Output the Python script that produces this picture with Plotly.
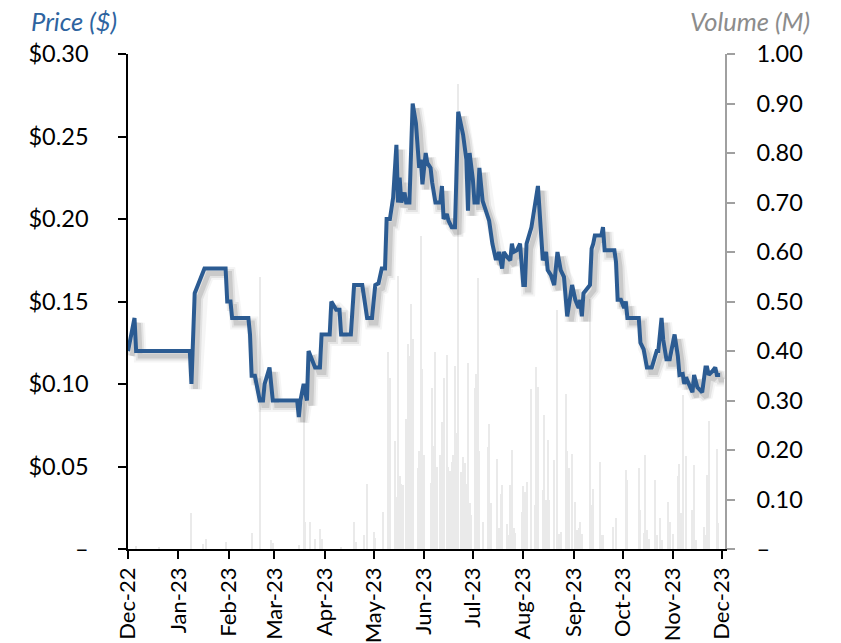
import pandas as pd
import plotly.graph_objects as go

# Daily closing price (turning points of the traded series), USD
price_dates = [
    "2022-12-01", "2022-12-05", "2022-12-06", "2023-01-08", "2023-01-09", "2023-01-11",
    "2023-01-13", "2023-01-15", "2023-01-17", "2023-01-30", "2023-01-31", "2023-02-02",
    "2023-02-03", "2023-02-13", "2023-02-14", "2023-02-15", "2023-02-17", "2023-02-20",
    "2023-02-22", "2023-02-23", "2023-02-26", "2023-02-28", "2023-03-15", "2023-03-16",
    "2023-03-17", "2023-03-19", "2023-03-21", "2023-03-22", "2023-03-26", "2023-03-29",
    "2023-03-30", "2023-04-04", "2023-04-05", "2023-04-08", "2023-04-10", "2023-04-11",
    "2023-04-17", "2023-04-19", "2023-04-24", "2023-04-27", "2023-04-30", "2023-05-02",
    "2023-05-04", "2023-05-06", "2023-05-08", "2023-05-09", "2023-05-11", "2023-05-13",
    "2023-05-15", "2023-05-16", "2023-05-17", "2023-05-18", "2023-05-20", "2023-05-21",
    "2023-05-23", "2023-05-25", "2023-05-27", "2023-05-29", "2023-05-30", "2023-05-31",
    "2023-06-02", "2023-06-03", "2023-06-05", "2023-06-06", "2023-06-08", "2023-06-11",
    "2023-06-12", "2023-06-13", "2023-06-15", "2023-06-16", "2023-06-18", "2023-06-20",
    "2023-06-22", "2023-06-25", "2023-06-27", "2023-06-28", "2023-06-29", "2023-07-01",
    "2023-07-02", "2023-07-04", "2023-07-05", "2023-07-07", "2023-07-09", "2023-07-11",
    "2023-07-13", "2023-07-15", "2023-07-16", "2023-07-17", "2023-07-19", "2023-07-20",
    "2023-07-22", "2023-07-24", "2023-07-25", "2023-07-26", "2023-07-28", "2023-07-30",
    "2023-08-01", "2023-08-02", "2023-08-03", "2023-08-04", "2023-08-06", "2023-08-10",
    "2023-08-13", "2023-08-15", "2023-08-16", "2023-08-18", "2023-08-20", "2023-08-22",
    "2023-08-24", "2023-08-26", "2023-08-28", "2023-08-31", "2023-09-02", "2023-09-04",
    "2023-09-05", "2023-09-06", "2023-09-07", "2023-09-11", "2023-09-12", "2023-09-13",
    "2023-09-14", "2023-09-18", "2023-09-19", "2023-09-20", "2023-09-26", "2023-09-27",
    "2023-09-28", "2023-09-30", "2023-10-02", "2023-10-03", "2023-10-04", "2023-10-11",
    "2023-10-12", "2023-10-14", "2023-10-16", "2023-10-19", "2023-10-22", "2023-10-23",
    "2023-10-25", "2023-10-26", "2023-10-28", "2023-10-30", "2023-11-02", "2023-11-04",
    "2023-11-05", "2023-11-07", "2023-11-08", "2023-11-09", "2023-11-11", "2023-11-13",
    "2023-11-14", "2023-11-16", "2023-11-19", "2023-11-21", "2023-11-22", "2023-11-23",
    "2023-11-25", "2023-11-27", "2023-11-28", "2023-11-30",
]
price_values = [
    0.12, 0.14, 0.12, 0.12, 0.10, 0.155,
    0.16, 0.165, 0.17, 0.17, 0.15, 0.15,
    0.14, 0.14, 0.13, 0.105, 0.105, 0.09,
    0.09, 0.10, 0.11, 0.09, 0.09, 0.08,
    0.09, 0.10, 0.09, 0.12, 0.11, 0.11,
    0.13, 0.13, 0.15, 0.145, 0.145, 0.13,
    0.13, 0.16, 0.16, 0.14, 0.14, 0.16,
    0.161, 0.17, 0.17, 0.20, 0.20, 0.213,
    0.245, 0.21, 0.225, 0.21, 0.216, 0.21,
    0.21, 0.27, 0.258, 0.231, 0.236, 0.221,
    0.24, 0.234, 0.231, 0.222, 0.21, 0.21,
    0.22, 0.20, 0.203, 0.199, 0.195, 0.195,
    0.265, 0.251, 0.236, 0.205, 0.24, 0.224,
    0.21, 0.21, 0.231, 0.211, 0.204, 0.199,
    0.185, 0.176, 0.176, 0.18, 0.17, 0.18,
    0.177, 0.175, 0.185, 0.18, 0.181, 0.185,
    0.16, 0.16, 0.185, 0.188, 0.195, 0.22,
    0.175, 0.18, 0.169, 0.166, 0.16, 0.18,
    0.169, 0.165, 0.141, 0.16, 0.151, 0.146,
    0.151, 0.141, 0.155, 0.16, 0.182, 0.185,
    0.19, 0.19, 0.195, 0.181, 0.181, 0.174,
    0.151, 0.151, 0.146, 0.15, 0.14, 0.14,
    0.125, 0.121, 0.11, 0.11, 0.12, 0.12,
    0.14, 0.127, 0.115, 0.115, 0.13, 0.117,
    0.1055, 0.106, 0.10, 0.104, 0.0994, 0.095,
    0.1055, 0.098, 0.095, 0.11, 0.11, 0.1055,
    0.1075, 0.11, 0.1055, 0.1055,
]

# Daily traded volume, millions of shares
volume_dates = [
    "2022-12-06", "2022-12-20", "2023-01-09", "2023-01-16", "2023-01-18", "2023-01-30",
    "2023-02-15", "2023-02-20", "2023-02-27", "2023-02-28", "2023-03-16", "2023-03-19",
    "2023-03-20", "2023-03-23", "2023-03-26", "2023-03-29", "2023-03-30", "2023-04-11",
    "2023-04-19", "2023-04-20", "2023-04-25", "2023-04-27", "2023-05-01", "2023-05-02",
    "2023-05-07", "2023-05-10", "2023-05-11", "2023-05-14", "2023-05-15", "2023-05-16",
    "2023-05-17", "2023-05-18", "2023-05-19", "2023-05-21", "2023-05-22", "2023-05-23",
    "2023-05-24", "2023-05-25", "2023-05-28", "2023-05-29", "2023-05-30", "2023-05-31",
    "2023-06-01", "2023-06-05", "2023-06-06", "2023-06-07", "2023-06-08", "2023-06-09",
    "2023-06-11", "2023-06-12", "2023-06-13", "2023-06-15", "2023-06-16", "2023-06-17",
    "2023-06-18", "2023-06-19", "2023-06-20", "2023-06-21", "2023-06-22", "2023-06-24",
    "2023-06-25", "2023-06-26", "2023-06-27", "2023-06-28", "2023-06-29", "2023-06-30",
    "2023-07-02", "2023-07-03", "2023-07-04", "2023-07-05", "2023-07-07", "2023-07-10",
    "2023-07-11", "2023-07-12", "2023-07-16", "2023-07-17", "2023-07-18", "2023-07-19",
    "2023-07-22", "2023-07-23", "2023-07-24", "2023-07-25", "2023-07-26", "2023-07-27",
    "2023-07-31", "2023-08-01", "2023-08-02", "2023-08-03", "2023-08-06", "2023-08-08",
    "2023-08-09", "2023-08-10", "2023-08-13", "2023-08-14", "2023-08-15", "2023-08-16",
    "2023-08-17", "2023-08-20", "2023-08-22", "2023-08-23", "2023-08-24", "2023-08-27",
    "2023-08-28", "2023-08-29", "2023-08-31", "2023-09-02", "2023-09-03", "2023-09-04",
    "2023-09-05", "2023-09-06", "2023-09-11", "2023-09-12", "2023-09-13", "2023-09-17",
    "2023-09-18", "2023-09-19", "2023-09-25", "2023-09-27", "2023-10-03", "2023-10-04",
    "2023-10-11", "2023-10-12", "2023-10-14", "2023-10-15", "2023-10-16", "2023-10-17",
    "2023-10-21", "2023-10-22", "2023-10-24", "2023-10-25", "2023-10-29", "2023-10-30",
    "2023-11-01", "2023-11-04", "2023-11-05", "2023-11-06", "2023-11-07", "2023-11-09",
    "2023-11-13", "2023-11-14", "2023-11-15", "2023-11-20", "2023-11-21", "2023-11-22",
    "2023-11-23", "2023-11-28", "2023-11-29",
]
volume_values = [
    0.006, 0.005, 0.073, 0.010, 0.020, 0.015,
    0.033, 0.550, 0.018, 0.012, 0.008, 0.315,
    0.055, 0.054, 0.020, 0.040, 0.020, 0.005,
    0.055, 0.015, 0.028, 0.131, 0.035, 0.022,
    0.075, 0.397, 0.345, 0.218, 0.106, 0.552,
    0.147, 0.131, 0.129, 0.262, 0.414, 0.389,
    0.494, 0.424, 0.163, 0.197, 0.632, 0.364,
    0.190, 0.133, 0.325, 0.209, 0.398, 0.166,
    0.190, 0.257, 0.346, 0.392, 0.166, 0.158,
    0.176, 0.190, 0.370, 0.235, 0.939, 0.156,
    0.186, 0.173, 0.131, 0.375, 0.092, 0.069,
    0.325, 0.353, 0.547, 0.197, 0.055, 0.207,
    0.252, 0.092, 0.182, 0.043, 0.111, 0.129,
    0.050, 0.029, 0.129, 0.201, 0.042, 0.033,
    0.075, 0.128, 0.116, 0.136, 0.323, 0.089,
    0.368, 0.328, 0.119, 0.271, 0.098, 0.221,
    0.098, 0.180, 0.483, 0.030, 0.035, 0.313,
    0.197, 0.163, 0.192, 0.095, 0.038, 0.042,
    0.055, 0.030, 0.505, 0.088, 0.122, 0.176,
    0.028, 0.028, 0.045, 0.062, 0.160, 0.140,
    0.163, 0.079, 0.032, 0.190, 0.038, 0.020,
    0.140, 0.028, 0.062, 0.018, 0.095, 0.055,
    0.030, 0.147, 0.171, 0.073, 0.311, 0.188,
    0.079, 0.170, 0.018, 0.045, 0.028, 0.150,
    0.259, 0.203, 0.053,
]

# Axis ticks
month_ticks = ["2022-12-01", "2023-01-01", "2023-02-01", "2023-03-01", "2023-04-01",
               "2023-05-01", "2023-06-01", "2023-07-01", "2023-08-01", "2023-09-01",
               "2023-10-01", "2023-11-01", "2023-12-01"]
month_labels = ["Dec-22", "Jan-23", "Feb-23", "Mar-23", "Apr-23", "May-23", "Jun-23",
                "Jul-23", "Aug-23", "Sep-23", "Oct-23", "Nov-23", "Dec-23"]
price_ticks = [0.0, 0.05, 0.10, 0.15, 0.20, 0.25, 0.30]
price_labels = ["\u2013", "$0.05", "$0.10", "$0.15", "$0.20", "$0.25", "$0.30"]
volume_ticks = [0.0, 0.1, 0.2, 0.3, 0.4, 0.5, 0.6, 0.7, 0.8, 0.9, 1.0]
volume_labels = ["\u2013", "0.10", "0.20", "0.30", "0.40", "0.50", "0.60", "0.70",
                 "0.80", "0.90", "1.00"]

FONT = "Lato"
TICK_SIZE = 23.5
DATE_TICK_SIZE = 22
TITLE_SIZE = 25.5
LINE_BLUE = "#2B5B92"

x_start = pd.Timestamp("2022-12-01")
x_end = pd.Timestamp("2023-12-03")
plot_w, plot_h = 597, 495
px_per_ms = plot_w / (x_end - x_start).total_seconds() / 1000
# drop-shadow offset: a few pixels right and down
shadow_dx = pd.Timedelta(milliseconds=4 / px_per_ms)
shadow_dy = 5 * 0.30 / plot_h

fig = go.Figure()

# volume bars (base subplot, right axis)
fig.add_trace(go.Bar(
    x=pd.to_datetime(volume_dates), y=volume_values,
    width=0.6 * 86400000, marker=dict(color="#EAEAEA", line=dict(width=0)),
    xaxis="x", yaxis="y", hoverinfo="skip", showlegend=False,
))

# soft shadow under the price line
for w, a in [(13, 0.04), (9, 0.07), (5, 0.11)]:
    fig.add_trace(go.Scatter(
        x=pd.to_datetime(price_dates), y=price_values, mode="lines",
        line=dict(color=f"rgba(0,0,0,{a})", width=w),
        xaxis="x2", yaxis="y2", hoverinfo="skip", showlegend=False,
    ))

# price line
fig.add_trace(go.Scatter(
    x=pd.to_datetime(price_dates), y=price_values, mode="lines",
    line=dict(color=LINE_BLUE, width=4),
    xaxis="x3", yaxis="y3", showlegend=False,
))

tick_font = dict(family=FONT, size=TICK_SIZE, color="#000000")

fig.update_layout(
    width=841, height=643,
    margin=dict(l=128, r=116, t=54, b=94, autoexpand=False),
    paper_bgcolor="white", plot_bgcolor="white",
    bargap=0,
    xaxis=dict(
        type="date", range=[x_start, x_end], automargin=False,
        tickvals=month_ticks, ticktext=month_labels, tickangle=-90,
        tickfont=dict(family=FONT, size=DATE_TICK_SIZE, color="#000000"),
        ticks="outside", ticklen=8, tickwidth=2, tickcolor="#000",
        showline=True, linecolor="#000", linewidth=1.5,
        showgrid=False, zeroline=False, ticklabelstandoff=0,
    ),
    yaxis=dict(
        side="right", range=[0, 1.0], automargin=False,
        tickvals=volume_ticks, ticktext=volume_labels,
        tickfont=tick_font, ticks="outside", ticklen=8, tickwidth=1.5, tickcolor="#A0A0A0",
        showline=True, linecolor="#A0A0A0", linewidth=1.5,
        showgrid=False, zeroline=False, ticklabelstandoff=17,
    ),
    xaxis2=dict(
        type="date", overlaying="x", range=[x_start - shadow_dx, x_end - shadow_dx],
        visible=False, automargin=False,
    ),
    yaxis2=dict(
        overlaying="y", range=[shadow_dy, 0.30 + shadow_dy], visible=False,
        automargin=False,
    ),
    xaxis3=dict(
        type="date", overlaying="x", range=[x_start, x_end], visible=False,
        automargin=False,
    ),
    yaxis3=dict(
        overlaying="y", side="left", anchor="x3", range=[0, 0.30], automargin=False,
        tickvals=price_ticks, ticktext=price_labels,
        tickfont=tick_font, ticks="outside", ticklen=8, tickwidth=1.5, tickcolor="#000",
        showline=True, linecolor="#000", linewidth=1.5,
        showgrid=False, zeroline=False, ticklabelstandoff=25,
    ),
    annotations=[
        dict(text="<i>Price ($)</i>", xref="paper", yref="paper",
             x=(29 - 128) / plot_w, y=(549 - 21) / plot_h,
             xanchor="left", yanchor="middle", showarrow=False,
             font=dict(family=FONT, size=TITLE_SIZE, color="#2E64A0")),
        dict(text="<i>Volume (M)</i>", xref="paper", yref="paper",
             x=(812 - 128) / plot_w, y=(549 - 21) / plot_h,
             xanchor="right", yanchor="middle", showarrow=False,
             font=dict(family=FONT, size=TITLE_SIZE, color="#8C8C8C")),
    ],
)

fig.write_html("out.html")
